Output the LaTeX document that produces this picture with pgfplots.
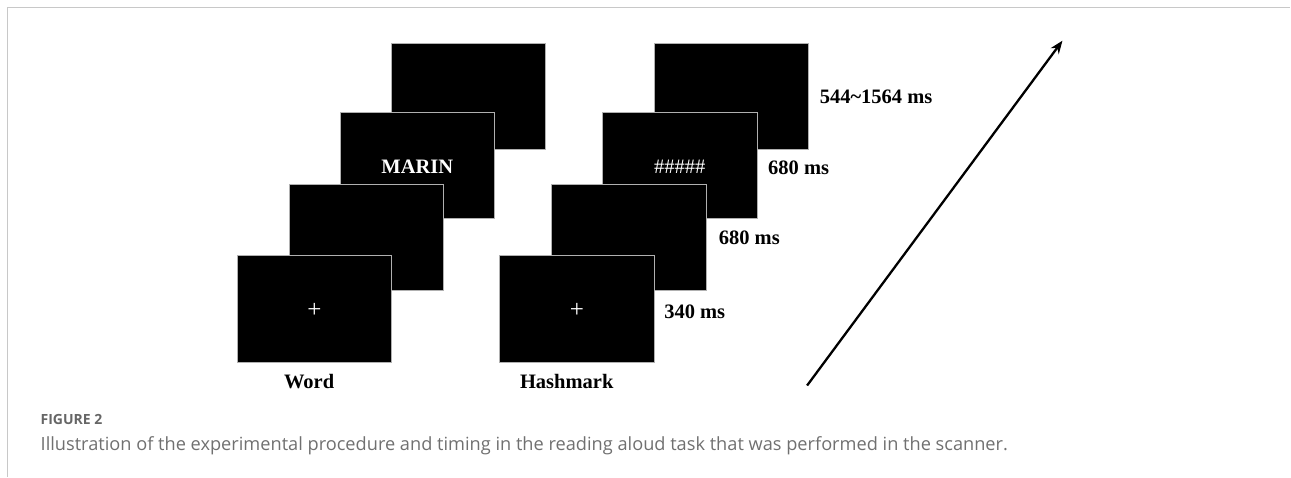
\documentclass[border=0pt]{standalone}
\usepackage{fontspec}
\usepackage{pgfplots}
\pgfplotsset{compat=1.18}
\usetikzlibrary{arrows.meta}
\newfontfamily\timesf{Liberation Serif}
\newfontfamily\capf{Open Sans}
\definecolor{framegray}{HTML}{C8C8C8}
\definecolor{edgegray}{HTML}{B0B0B0}
\definecolor{capgray}{HTML}{707070}
\definecolor{figgray}{HTML}{666666}
\begin{document}
\begin{tikzpicture}
\begin{axis}[
  hide axis, scale only axis,
  width=1291pt, height=477pt,
  xmin=0, xmax=1291, ymin=0, ymax=477,
  y dir=reverse, clip=false,
  every axis plot/.append style={line join=miter},
]
\addplot[draw=none] coordinates {(0,0) (1291,477)};
% frame
\addplot[framegray, line width=1.3pt] coordinates {(7.6,477) (7.6,7.3) (1291,7.3)};
% Word column, back to front
\addplot[fill=black, draw=edgegray, line width=0.8pt] coordinates {(391.5,43.3) (545.5,43.3) (545.5,149.3) (391.5,149.3)} -- cycle;
\addplot[fill=black, draw=edgegray, line width=0.8pt] coordinates {(340.5,112.3) (494.8,112.3) (494.8,218.7) (340.5,218.7)} -- cycle;
\addplot[fill=black, draw=edgegray, line width=0.8pt] coordinates {(289.8,184) (444,184) (444,290.7) (289.8,290.7)} -- cycle;
\addplot[fill=black, draw=edgegray, line width=0.8pt] coordinates {(238,255.7) (391.8,255.7) (391.8,362.7) (238,362.7)} -- cycle;
% Hashmark column, back to front
\addplot[fill=black, draw=edgegray, line width=0.8pt] coordinates {(654.5,43.3) (809,43.3) (809,149.3) (654.5,149.3)} -- cycle;
\addplot[fill=black, draw=edgegray, line width=0.8pt] coordinates {(603,112.3) (758,112.3) (758,218.7) (603,218.7)} -- cycle;
\addplot[fill=black, draw=edgegray, line width=0.8pt] coordinates {(551.5,184) (706.5,184) (706.5,290.7) (551.5,290.7)} -- cycle;
\addplot[fill=black, draw=edgegray, line width=0.8pt] coordinates {(500,255.7) (654.5,255.7) (654.5,362.7) (500,362.7)} -- cycle;
% arrow
\addplot[black, line width=2.3pt, -{Stealth[length=13pt,width=10pt]}] coordinates {(807.5,385.7) (1063,40.7)};
% texts inside screens
\node[white, font=\timesf\bfseries\fontsize{20.5}{24}\selectfont] at (axis cs:417.5,166.7) {MARIN};
\node[white, font=\timesf\fontsize{20.5}{24}\selectfont] at (axis cs:680,166.7) {\#\#\#\#\#};
\node[white, font=\timesf\fontsize{25}{28}\selectfont] at (axis cs:314.6,310.7) {+};
\node[white, font=\timesf\fontsize{25}{28}\selectfont] at (axis cs:577.3,310.7) {+};
% timing labels
\node[anchor=west, inner sep=0pt, font=\timesf\bfseries\fontsize{20.5}{24}\selectfont] at (axis cs:820,97.3) {544\char"7E 1564 ms};
\node[anchor=west, inner sep=0pt, font=\timesf\bfseries\fontsize{20.5}{24}\selectfont] at (axis cs:768.4,168.3) {680 ms};
\node[anchor=west, inner sep=0pt, font=\timesf\bfseries\fontsize{20.5}{24}\selectfont] at (axis cs:719,238.3) {680 ms};
\node[anchor=west, inner sep=0pt, font=\timesf\bfseries\fontsize{20.5}{24}\selectfont] at (axis cs:664.4,311.7) {340 ms};
% column labels
\node[font=\timesf\bfseries\fontsize{20.5}{24}\selectfont] at (axis cs:309.3,381.7) {Word};
\node[font=\timesf\bfseries\fontsize{20.5}{24}\selectfont] at (axis cs:567,381.7) {Hashmark};
% caption
\node[anchor=west, inner sep=0pt, figgray, font=\capf\bfseries\fontsize{14}{17}\selectfont] at (axis cs:40.5,420) {FIGURE 2};
\node[anchor=west, inner sep=0pt, capgray, font=\capf\fontsize{18.2}{21}\selectfont] at (axis cs:40.5,445.7) {Illustration of the experimental procedure and timing in the reading aloud task that was performed in the scanner.};
\end{axis}
\end{tikzpicture}
\end{document}
